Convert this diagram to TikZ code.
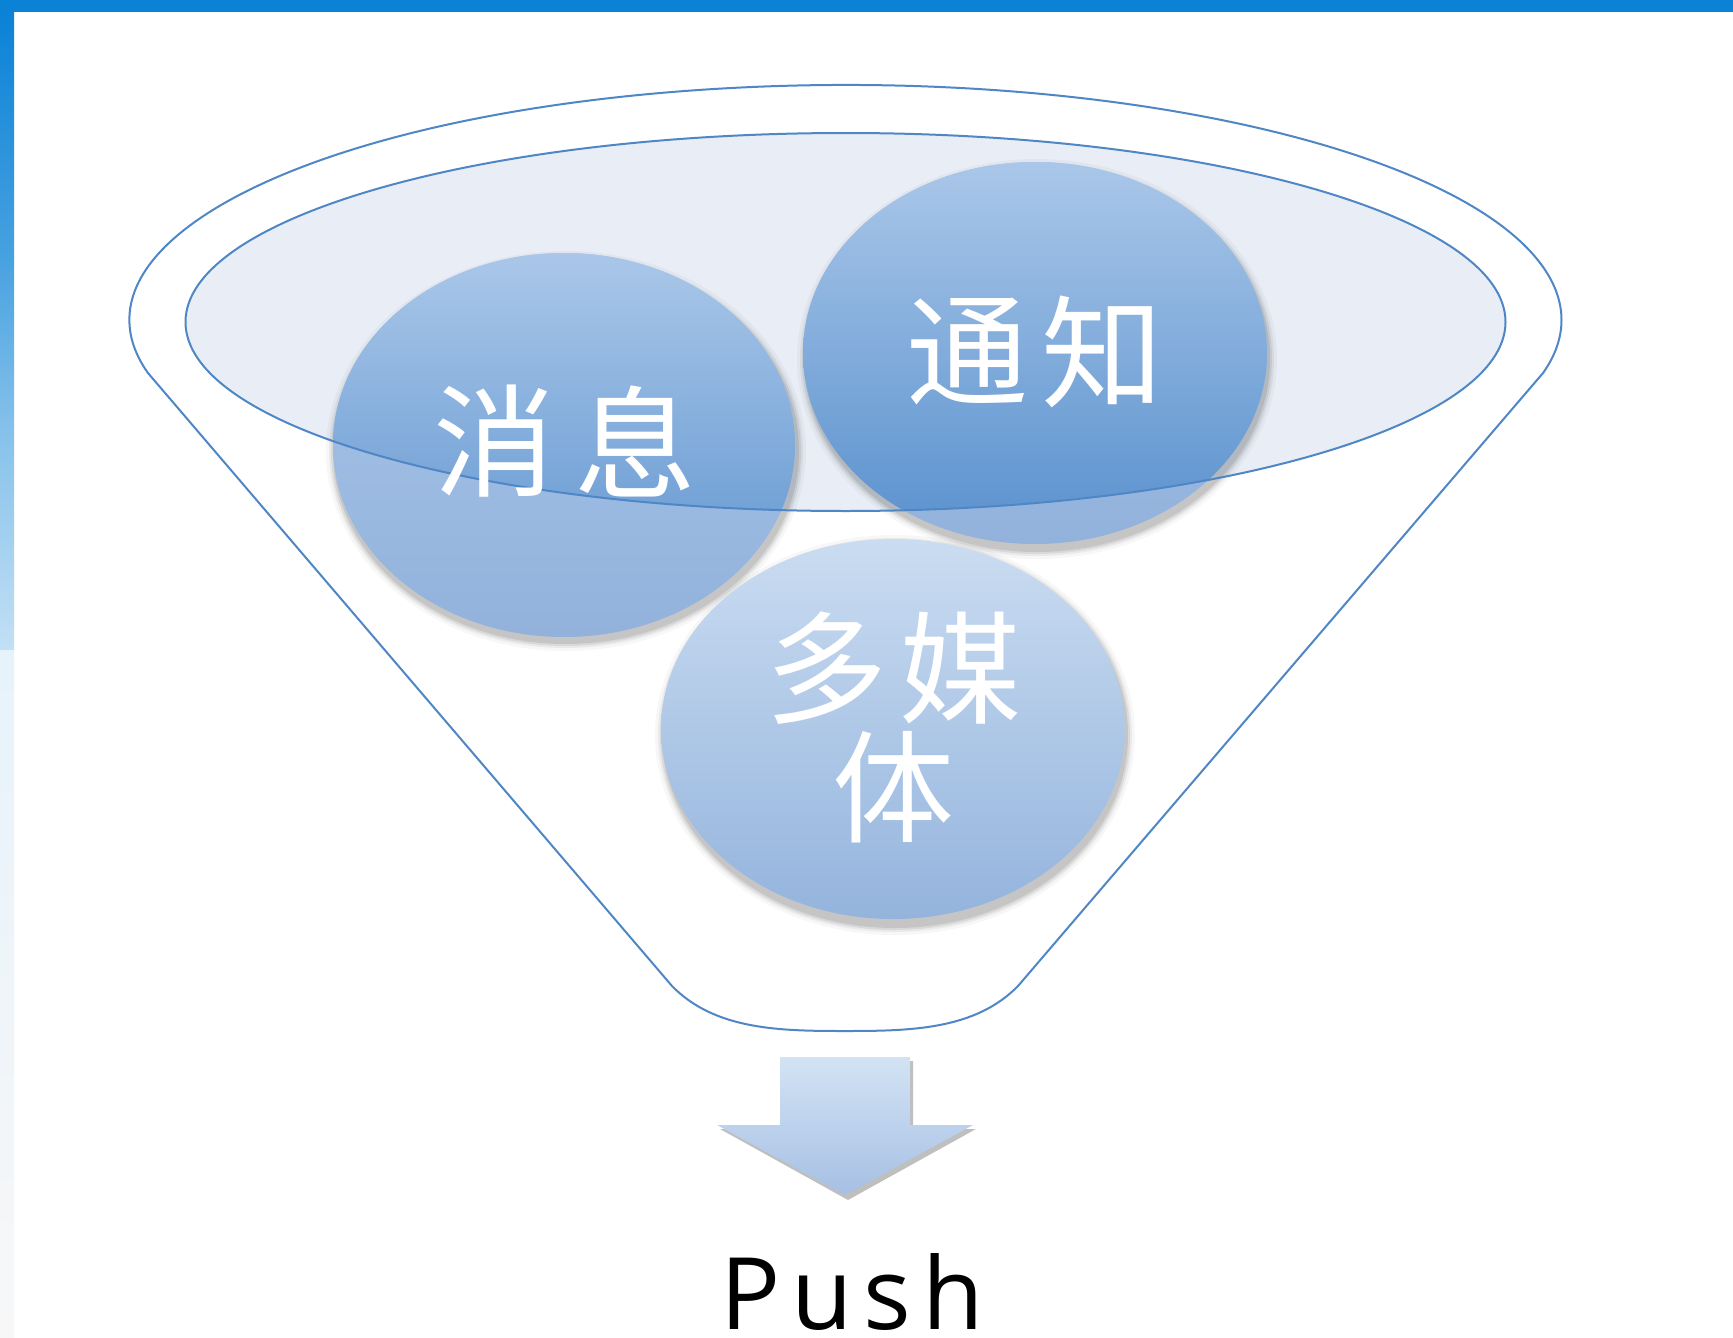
\documentclass[tikz,border=0pt]{standalone}
\usepackage{fontspec}
\setmainfont{Open Sans}
\newfontfamily\cjk{Noto Sans CJK SC}
\definecolor{barblue}{HTML}{0A82D6}
\definecolor{funline}{HTML}{4F86C6}
\definecolor{innerfill}{HTML}{E9EEF6}
\definecolor{ctop}{HTML}{AAC7E9}
\definecolor{cbot}{HTML}{92B2DC}
\definecolor{cdark}{HTML}{5890CD}
\definecolor{mtop}{HTML}{CADCF1}
\definecolor{mbot}{HTML}{94B4DD}
\definecolor{arrtop}{HTML}{D3E3F4}
\definecolor{arrbot}{HTML}{A6C0E4}
\tikzset{
  chartext/.style={inner sep=0pt, text=white, font=\cjk\fontsize{122}{122}\selectfont},
  funstroke/.style={draw=funline, line width=2pt},
}
\begin{document}
\begin{tikzpicture}[x=1pt,y=-1pt]
\useasboundingbox (0,0) rectangle (1733,1338);
\fill[white] (0,0) rectangle (1733,1338);
% frame strips
\shade[top color=barblue, bottom color=barblue!75!white] (0,12) rectangle (14,256);
\shade[top color=barblue!75!white, bottom color=barblue!50!white] (0,256) rectangle (14,427);
\shade[top color=barblue!50!white, bottom color=barblue!25!white] (0,427) rectangle (14,650);
\shade[top color=barblue!10!white, bottom color=black!3!white] (0,650) rectangle (14,1338);
\fill[barblue] (0,0) rectangle (1733,12);
% funnel outline
\draw[funstroke, line join=round]
  (845.5,320) ++(167:716 and 235) arc[start angle=167, end angle=373, x radius=716, y radius=235]
  -- (1018,986) .. controls (975,1030) and (910,1031) .. (845,1031)
  .. controls (780,1031) and (715,1030) .. (672,986) -- cycle;
% inner ellipse fill
\fill[innerfill] (845.5,322) ellipse[x radius=660, y radius=189];
% shadows
\foreach \cx/\cy in {564/445, 1035/353, 893/729}{
  \foreach \d/\o in {9/0.03, 6/0.05, 4/0.07, 2/0.09}{
    \fill[black, opacity=\o] (\cx+2,\cy+6) ellipse[x radius=231+\d, y radius=191+\d];
  }
}
% circles
\shade[top color=ctop, bottom color=cbot] (564,445) ellipse[x radius=231, y radius=192];
\shade[top color=ctop, bottom color=cbot] (1035,353) ellipse[x radius=232, y radius=191];
\shade[top color=mtop, bottom color=mbot] (893,729) ellipse[x radius=232, y radius=190];
\begin{scope}
  \clip (845.5,322) ellipse[x radius=660, y radius=189];
  \shade[top color=ctop, bottom color=cdark] (564,445) ellipse[x radius=231, y radius=192];
  \shade[top color=ctop, bottom color=cdark] (1035,353) ellipse[x radius=232, y radius=191];
\end{scope}
\draw[funstroke] (845.5,322) ellipse[x radius=660, y radius=189];
% texts
\node[chartext] (xiao) at (494,441) {消};
\node[chartext] (xi) at (635,441) {息};
\node[chartext] (tong) at (967,352) {通};
\node[chartext] (zhi) at (1102,352) {知};
\node[chartext] (duo) at (826,668) {多};
\node[chartext] (mei) at (960,668) {媒};
\node[chartext] (ti) at (893,787) {体};
% arrow
\fill[black, opacity=0.25] (783,1061) -- (913,1061) -- (913,1129) -- (976,1129) -- (848,1200) -- (720,1129) -- (783,1129) -- cycle;
\shade[top color=arrtop, bottom color=arrbot] (780,1057) -- (910,1057) -- (910,1125) -- (973,1125) -- (845,1195) -- (717,1125) -- (780,1125) -- cycle;
% Push
\node[inner sep=0pt, anchor=base, text depth=0pt, font=\addfontfeatures{LetterSpace=11}\fontsize{100}{100}\selectfont] (push) at (852,1329) {Push};
\end{tikzpicture}
\end{document}
